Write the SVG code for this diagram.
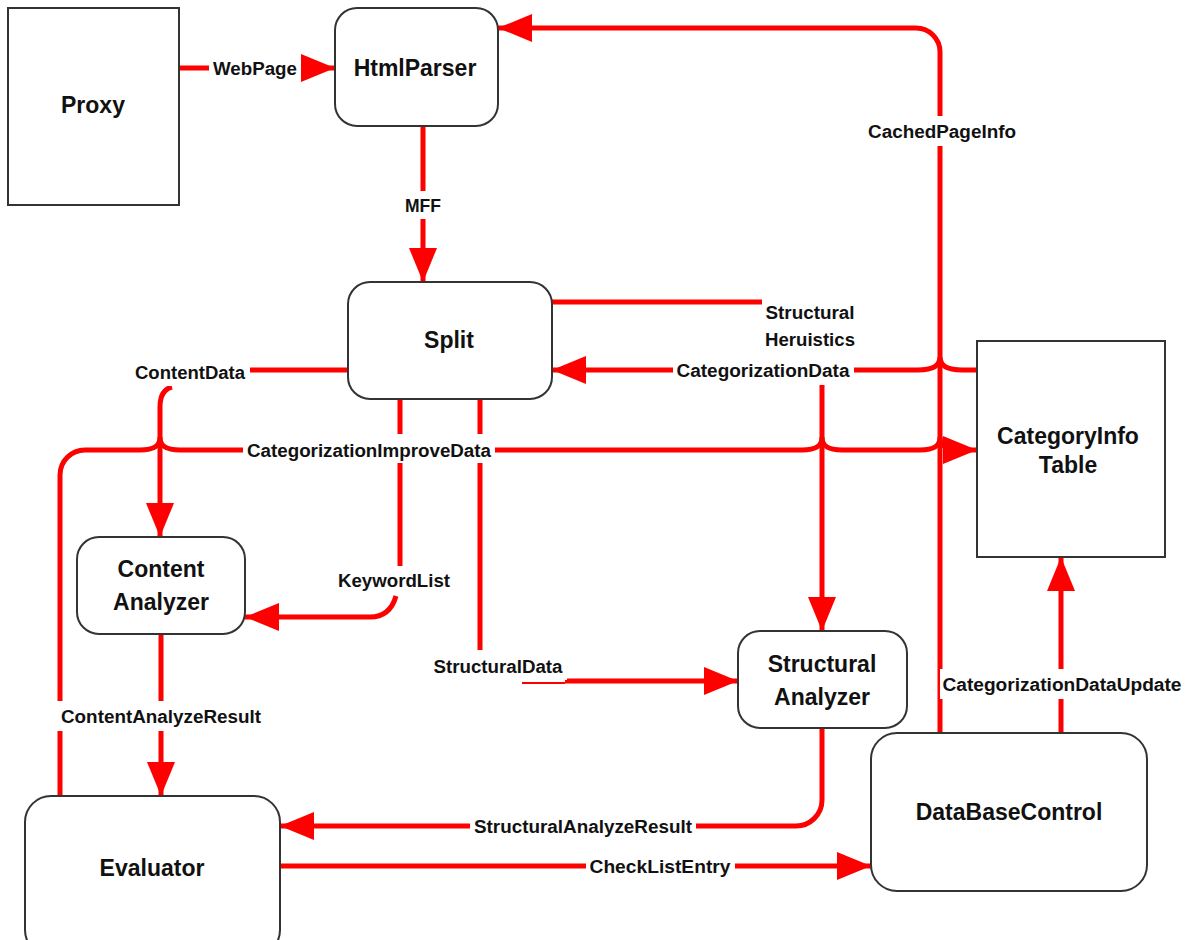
<svg xmlns="http://www.w3.org/2000/svg" width="1185" height="940" viewBox="0 0 1185 940">
<style>
.n{fill:#fff;stroke:#333;stroke-width:2}
.nt{font-family:"Liberation Sans",Arial,sans-serif;font-weight:bold;font-size:23px;fill:#111;text-anchor:middle}
.c{fill:none;stroke:#f00;stroke-width:5}
.lb{fill:#fff}
.lt{font-family:"Liberation Sans",Arial,sans-serif;font-weight:bold;font-size:18px;fill:#111;text-anchor:middle}
</style>
<defs>
<marker id="ah" markerUnits="userSpaceOnUse" markerWidth="34" markerHeight="28" refX="34" refY="14" orient="auto">
<path d="M0,0 L34,14 L0,28 z" fill="#f00"/>
</marker>
</defs>
<rect width="1185" height="940" fill="#fff"/>
<g id="connectors">
<path class="c" d="M179,68 H335" marker-end="url(#ah)"/>
<path class="c" d="M423,126 V282" marker-end="url(#ah)"/>
<path class="c" d="M940,733 V52 A24,24 0 0 0 916,28 H498" marker-end="url(#ah)"/>
<path class="c" d="M552,302 H762"/>
<path class="c" d="M977,370 H962 C948,370 940,366 940,357 C940,366 932,370 918,370 H552" marker-end="url(#ah)"/>
<path class="c" d="M822,385 V631" marker-end="url(#ah)"/>
<path class="c" d="M60,796 V475 A25,25 0 0 1 85,450 H140 C154,450 160,446 160,437 C160,446 166,450 180,450 H802 C816,450 822,446 822,437 C822,446 828,450 842,450 H920 C934,450 940,446 940,437 C940,446 946,450 960,450 H977" marker-end="url(#ah)"/>
<path class="c" d="M348,370 H250"/>
<path class="c" d="M172,387 C164,389 160,395 160,407 V537" marker-end="url(#ah)"/>
<path class="c" d="M400,399 V566"/>
<path class="c" d="M396,596 C392,610 384,617 370,617 H245" marker-end="url(#ah)"/>
<path class="c" d="M480,399 V650"/>
<path class="c" d="M565,681 H738" marker-end="url(#ah)"/>
<path fill="none" stroke="#f00" stroke-width="2" d="M522,683 H565"/>
<path class="c" d="M822,728 V800 A26,26 0 0 1 796,826 H280" marker-end="url(#ah)"/>
<path class="c" d="M280,866 H871" marker-end="url(#ah)"/>
<path class="c" d="M161,634 V796" marker-end="url(#ah)"/>
<path class="c" d="M1061,733 V557" marker-end="url(#ah)"/>
<g id="labels">
<rect class="lb" x="209" y="54" width="92" height="28"/>
<text class="lt" x="255" y="75" textLength="84" lengthAdjust="spacingAndGlyphs">WebPage</text>
<rect class="lb" x="401" y="191" width="44" height="28"/>
<text class="lt" x="423" y="212" textLength="36" lengthAdjust="spacingAndGlyphs">MFF</text>
<rect class="lb" x="864" y="116" width="156" height="30"/>
<text class="lt" x="942" y="138" textLength="148" lengthAdjust="spacingAndGlyphs">CachedPageInfo</text>
<text class="lt" x="810" y="319" textLength="89" lengthAdjust="spacingAndGlyphs">Structural</text>
<text class="lt" x="810" y="346" textLength="90" lengthAdjust="spacingAndGlyphs">Heruistics</text>
<rect class="lb" x="673" y="356" width="181" height="29"/>
<text class="lt" x="763" y="377" textLength="173" lengthAdjust="spacingAndGlyphs">CategorizationData</text>
<rect class="lb" x="131" y="358" width="118" height="28"/>
<text class="lt" x="190" y="379" textLength="110" lengthAdjust="spacingAndGlyphs">ContentData</text>
<rect class="lb" x="243" y="434" width="252" height="29"/>
<text class="lt" x="369" y="457" textLength="244" lengthAdjust="spacingAndGlyphs">CategorizationImproveData</text>
<rect class="lb" x="334" y="566" width="120" height="29"/>
<text class="lt" x="394" y="587" textLength="112" lengthAdjust="spacingAndGlyphs">KeywordList</text>
<rect class="lb" x="430" y="652" width="137" height="28"/>
<text class="lt" x="498" y="673" textLength="129" lengthAdjust="spacingAndGlyphs">StructuralData</text>
<rect class="lb" x="57" y="701" width="208" height="30"/>
<text class="lt" x="161" y="723" textLength="200" lengthAdjust="spacingAndGlyphs">ContentAnalyzeResult</text>
<rect class="lb" x="470" y="812" width="226" height="28"/>
<text class="lt" x="583" y="833" textLength="218" lengthAdjust="spacingAndGlyphs">StructuralAnalyzeResult</text>
<rect class="lb" x="586" y="852" width="149" height="28"/>
<text class="lt" x="660" y="873" textLength="141" lengthAdjust="spacingAndGlyphs">CheckListEntry</text>
<rect class="lb" x="940" y="669" width="244" height="30"/>
<text class="lt" x="1062" y="691" textLength="239" lengthAdjust="spacingAndGlyphs">CategorizationDataUpdate</text>
</g>
</g>
<g id="proxy">
<rect class="n" x="8" y="8" width="171" height="197"/>
<text class="nt" x="93" y="113">Proxy</text>
</g>
<g id="htmlparser">
<rect class="n" x="335" y="8" width="163" height="118" rx="22"/>
<text class="nt" x="415" y="76">HtmlParser</text>
</g>
<g id="split">
<rect class="n" x="348" y="282" width="204" height="117" rx="22"/>
<text class="nt" x="449" y="348">Split</text>
</g>
<g id="categoryinfo">
<rect class="n" x="977" y="341" width="188" height="216"/>
<text class="nt" x="1068" y="444">CategoryInfo</text>
<text class="nt" x="1068" y="473">Table</text>
</g>
<g id="contentanalyzer">
<rect class="n" x="77" y="537" width="168" height="97" rx="22"/>
<text class="nt" x="161" y="577">Content</text>
<text class="nt" x="161" y="610">Analyzer</text>
</g>
<g id="structuralanalyzer">
<rect class="n" x="738" y="631" width="169" height="97" rx="22"/>
<text class="nt" x="822" y="672">Structural</text>
<text class="nt" x="822" y="705">Analyzer</text>
</g>
<g id="evaluator">
<rect class="n" x="25" y="796" width="255" height="160" rx="26"/>
<text class="nt" x="152" y="876">Evaluator</text>
</g>
<g id="databasecontrol">
<rect class="n" x="871" y="733" width="276" height="158" rx="26"/>
<text class="nt" x="1009" y="820">DataBaseControl</text>
</g>
</svg>
